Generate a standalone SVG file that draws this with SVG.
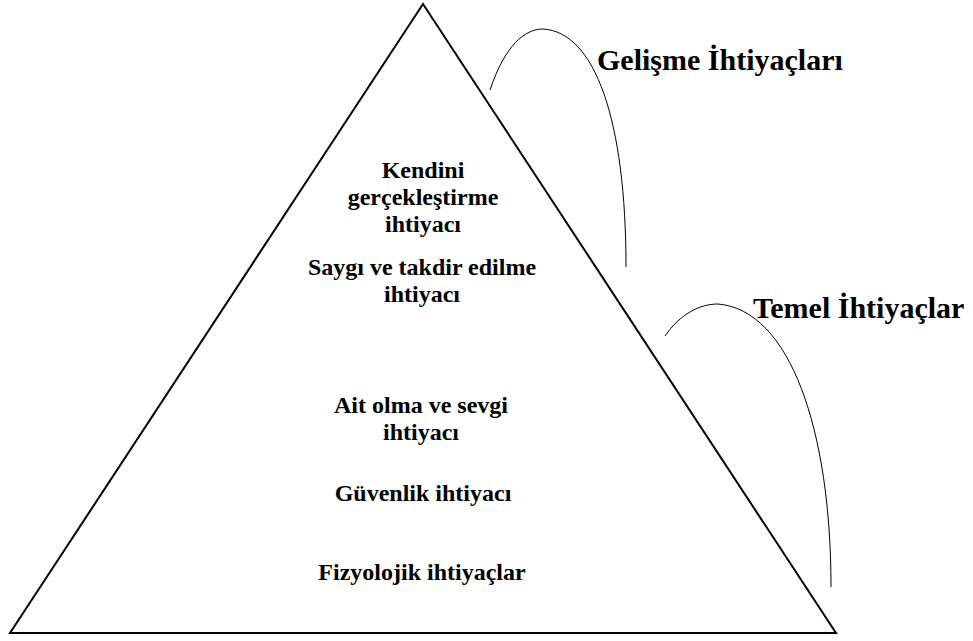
<svg xmlns="http://www.w3.org/2000/svg" width="973" height="641" viewBox="0 0 973 641">
<style>
.t{font-family:"Liberation Serif","Times New Roman",serif;font-weight:bold;fill:#000;text-anchor:middle;font-size:24px}
.h{font-family:"Liberation Serif","Times New Roman",serif;font-weight:bold;fill:#000;font-size:30px}
.arc{fill:none;stroke:#000;stroke-width:1}
</style>
<rect width="973" height="641" fill="#fff"/>
<g id="pyramid">
<polygon points="423,4 10,633 836,633" fill="none" stroke="#000" stroke-width="2"/>
</g>
<g id="levels">
<g id="level5"><text class="t" x="423" y="178">Kendini</text><text class="t" x="423" y="205">gerçekleştirme</text><text class="t" x="423" y="232">ihtiyacı</text></g>
<g id="level4"><text class="t" x="422" y="275">Saygı ve takdir edilme</text><text class="t" x="422" y="302">ihtiyacı</text></g>
<g id="level3"><text class="t" x="421" y="413">Ait olma ve sevgi</text><text class="t" x="421" y="440">ihtiyacı</text></g>
<g id="level2"><text class="t" x="423" y="501">Güvenlik ihtiyacı</text></g>
<g id="level1"><text class="t" x="422" y="580">Fizyolojik ihtiyaçlar</text></g>
</g>
<g id="connectors">
<path class="arc" d="M490,90 C505,45 525,29 543,29 C595,32 626,120 626,267"/>
<path class="arc" d="M665,336 C680,314 700,304 718,304 C790,310 831,430 831,587"/>
</g>
<g id="growth"><text class="h" x="597" y="70">Gelişme İhtiyaçları</text></g>
<g id="basic"><text class="h" x="753" y="318">Temel İhtiyaçlar</text></g>
</svg>
